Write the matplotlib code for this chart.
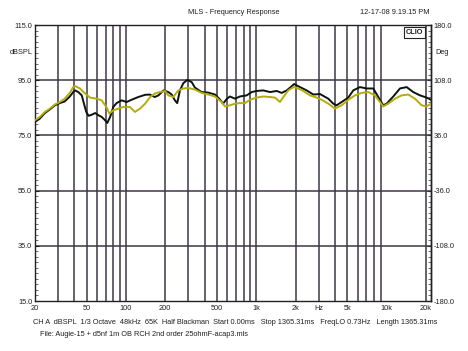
"""
Respuesta en frecuencia MLS (estilo CLIO) - dos curvas en 1/3 de octava
"""

import numpy as np
import matplotlib
matplotlib.use('Agg')
import matplotlib.pyplot as plt
from matplotlib import font_manager

# Curva negra (Hz, dBSPL)
black_freq = [20, 21.8, 23.8, 26.0, 28.4, 31.0, 33.8, 37.0, 39.3, 40.6, 43.0, 45.7,
              47.5, 49.5, 51.5, 54.6, 57.9, 61.4, 65.0, 69.0, 71.7, 75.5, 79.8, 84.5,
              92.5, 101, 110, 124, 140, 152, 166, 177, 194, 211, 224, 237, 247, 259,
              275, 295, 319, 338, 380, 428, 481, 526, 555, 595, 627, 686, 748, 843,
              921, 1005, 1130, 1274, 1432, 1564, 1710, 1866, 1950, 2163, 2433, 2735,
              3078, 3566, 3893, 4132, 4515, 5075, 5544, 6238, 7028, 7894, 8630, 9420,
              10000, 11245, 12649, 14250, 16000, 18030, 20280, 21900]
black_db = [79.9, 81.1, 83.1, 84.4, 85.9, 86.7, 87.3, 89.1, 90.7, 91.3, 90.7, 89.5,
            86.5, 83.5, 82.1, 82.5, 83.1, 82.3, 81.7, 80.5, 79.5, 81.7, 85.3, 86.7,
            87.7, 87.1, 87.9, 88.9, 89.7, 89.8, 88.9, 89.5, 91.3, 90.7, 89.8, 87.7,
            86.7, 91.3, 93.9, 95.1, 94.3, 92.3, 90.7, 90.5, 89.8, 88.0, 86.5, 88.3,
            89.1, 88.3, 89.1, 89.5, 90.7, 91.1, 91.3, 90.7, 91.1, 90.4, 91.3, 92.8,
            93.6, 92.5, 91.3, 89.8, 90.0, 88.3, 86.5, 85.9, 87.1, 88.7, 91.3, 92.5,
            92.0, 92.0, 88.9, 85.9, 86.5, 89.1, 92.0, 92.5, 90.7, 89.5, 88.7, 87.9]

# Curva amarilla (Hz, dBSPL)
yellow_freq = [20, 21.8, 23.8, 26.0, 28.4, 31.0, 33.8, 37.0, 39.3, 40.6, 44.3, 48.4,
               52.9, 59.5, 65.0, 71.0, 74.4, 79.8, 87.2, 95.2, 107, 117, 128, 140,
               153, 167, 182, 199, 211, 230, 252, 275, 300, 338, 380, 428, 481, 542,
               574, 627, 686, 748, 818, 893, 1005, 1130, 1274, 1390, 1518, 1609, 1758,
               1920, 2098, 2292, 2580, 2904, 3172, 3570, 4009, 4520, 5080, 5712, 6430,
               7230, 8133, 8888, 9420, 10290, 11590, 13030, 14656, 16490, 18570, 20280,
               21900]
yellow_db = [80.5, 81.7, 83.5, 84.7, 86.2, 87.1, 88.3, 90.4, 92.5, 92.9, 92.0, 90.2,
             88.7, 88.3, 87.7, 85.1, 82.9, 84.1, 84.7, 85.3, 85.3, 83.5, 84.7, 86.5,
             88.9, 90.2, 90.7, 91.1, 89.5, 88.9, 91.3, 92.0, 92.2, 91.6, 90.4, 89.8,
             89.1, 87.1, 85.5, 85.9, 86.5, 86.7, 86.7, 87.9, 88.7, 89.1, 88.9, 88.7,
             87.1, 88.9, 91.3, 92.5, 92.0, 91.1, 89.5, 88.7, 87.9, 86.5, 84.7, 85.9,
             87.9, 89.5, 90.4, 90.7, 89.5, 87.1, 85.5, 86.5, 88.3, 89.5, 89.8, 88.3,
             85.9, 85.5, 86.5]

# Ejes
x_ticks = [20, 50, 100, 200, 500, 1000, 2000, 3000, 5000, 10000, 20000]
x_labels = ['20', '50', '100', '200', '500', '1k', '2k', 'Hz', '5k', '10k', '20k']
y_ticks = [15, 35, 55, 75, 95, 115]
deg_ticks = [-180, -108, -36, 36, 108, 180]
grid_freqs = [m * 10 ** e for e in (1, 2, 3) for m in range(1, 10)
              if 30 <= m * 10 ** e <= 10000] + [20000]

# Fuente estrecha si existe
names = {f.name for f in font_manager.fontManager.ttflist}
fam = 'Liberation Sans Narrow' if 'Liberation Sans Narrow' in names else 'Liberation Sans'
plt.rcParams['font.family'] = [fam, 'DejaVu Sans']
fs = 6.0 if fam == 'Liberation Sans Narrow' else 5.3
txt = '#202020'

W, H = 468, 351
fig = plt.figure(figsize=(W / 100, H / 100), dpi=100)

ax = fig.add_axes([35 / W, 1 - 301 / H, (431 - 35) / W, (301 - 25) / H])
ax.set_xscale('log')
ax.set_xlim(20, 21900)
ax.set_ylim(15, 115)

# Rejilla
for f in grid_freqs:
    ax.axvline(f, color='#3e3748', lw=1.1, zorder=1)
for y in y_ticks[1:-1]:
    ax.axhline(y, color='#3e3748', lw=1.1, zorder=1)

ax.plot(black_freq, black_db, color='#0c140c', lw=1.4, zorder=3)
ax.plot(yellow_freq, yellow_db, color='#b3ad0c', lw=1.4, zorder=4)

ax.set_xticks(x_ticks)
ax.set_xticklabels(x_labels)
ax.xaxis.set_minor_locator(matplotlib.ticker.NullLocator())
ax.tick_params(axis='x', length=0, labelsize=fs, colors=txt, pad=3)

ax.set_yticks(y_ticks)
ax.set_yticklabels(['%.1f' % v for v in y_ticks])
ax.set_yticks(np.arange(15, 116, 2), minor=True)
ax.tick_params(axis='y', which='major', direction='in', length=3, labelsize=fs,
               colors=txt, pad=2)
ax.tick_params(axis='y', which='minor', direction='in', length=2, color='#555555')

sec = ax.secondary_yaxis('right', functions=(lambda d: (d - 65) * 3.6,
                                             lambda g: g / 3.6 + 65))
sec.set_yticks(deg_ticks)
sec.set_yticklabels(['%.1f' % v for v in deg_ticks])
sec.set_yticks(np.arange(-180, 181, 7.2), minor=True)
sec.tick_params(axis='y', which='major', direction='in', length=3, labelsize=fs,
                colors=txt, pad=2)
sec.tick_params(axis='y', which='minor', direction='in', length=2, color='#555555')
for s in ax.spines.values():
    s.set_linewidth(1.0)
    s.set_color('#222222')
sec.spines['right'].set_linewidth(1.0)

# Textos
fig.text(234 / W, 1 - 13 / H, 'MLS - Frequency Response', ha='center', va='center',
         fontsize=fs, color=txt)
fig.text(430 / W, 1 - 13 / H, '12-17-08 9.19.15 PM', ha='right', va='center',
         fontsize=fs, color=txt)
fig.text(33 / W, 1 - 52 / H, 'dBSPL', ha='right', va='center', fontsize=fs, color=txt)
fig.text(435 / W, 1 - 52 / H, 'Deg', ha='left', va='center', fontsize=fs, color=txt)
ax.text(0.98, 0.985, 'CLIO', transform=ax.transAxes, ha='right', va='top',
        fontsize=fs, fontweight='bold', color=txt,
        bbox=dict(boxstyle='square,pad=0.25', fc='white', ec='#222222', lw=0.8))
foot = ('CH A  dBSPL  1/3 Octave  48kHz  65K  Half Blackman  Start 0.00ms   '
        'Stop 1365.31ms   FreqLO 0.73Hz   Length 1365.31ms')
fig.text(33 / W, 1 - 323 / H, foot, ha='left', va='center', fontsize=fs, color=txt)
fig.text(40 / W, 1 - 334 / H, 'File: Augie-15 + d5nf 1m OB RCH 2nd order 25ohmF-acap3.mls',
         ha='left', va='center', fontsize=fs, color=txt)

fig.savefig('out.png', dpi=100)
